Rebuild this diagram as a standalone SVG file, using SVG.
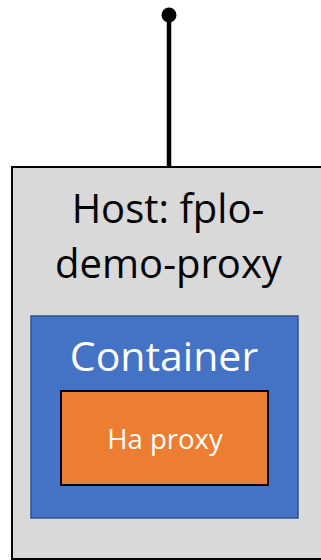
<svg xmlns="http://www.w3.org/2000/svg" width="321" height="560" viewBox="0 0 321 560">
<style>
.lbl{font-family:"Open Sans","Liberation Sans",sans-serif;text-anchor:middle}
</style>
<rect width="321" height="560" fill="#ffffff"/>
<g id="host">
<rect x="12" y="167" width="320" height="392" fill="#d9d9d9" stroke="#000" stroke-width="2"/>
<text class="lbl" x="168" y="223" font-size="40" fill="#000">Host: fplo-</text>
<text class="lbl" x="168.5" y="278" font-size="40" fill="#000">demo-proxy</text>
</g>
<g id="container">
<rect x="31" y="316" width="267" height="202" fill="#4472c4" stroke="#2f528f" stroke-width="1.5"/>
<text class="lbl" x="164" y="371" font-size="41" fill="#fff">Container</text>
</g>
<g id="haproxy">
<rect x="61" y="391" width="207" height="94" fill="#ed7d31" stroke="#000" stroke-width="2"/>
<text class="lbl" x="165" y="449" font-size="27.5" fill="#fff">Ha proxy</text>
</g>
<g id="connectors">
<line x1="169" y1="15" x2="169" y2="167" stroke="#000" stroke-width="4.5"/>
<circle cx="169" cy="15" r="7.5" fill="#000"/>
</g>
</svg>
